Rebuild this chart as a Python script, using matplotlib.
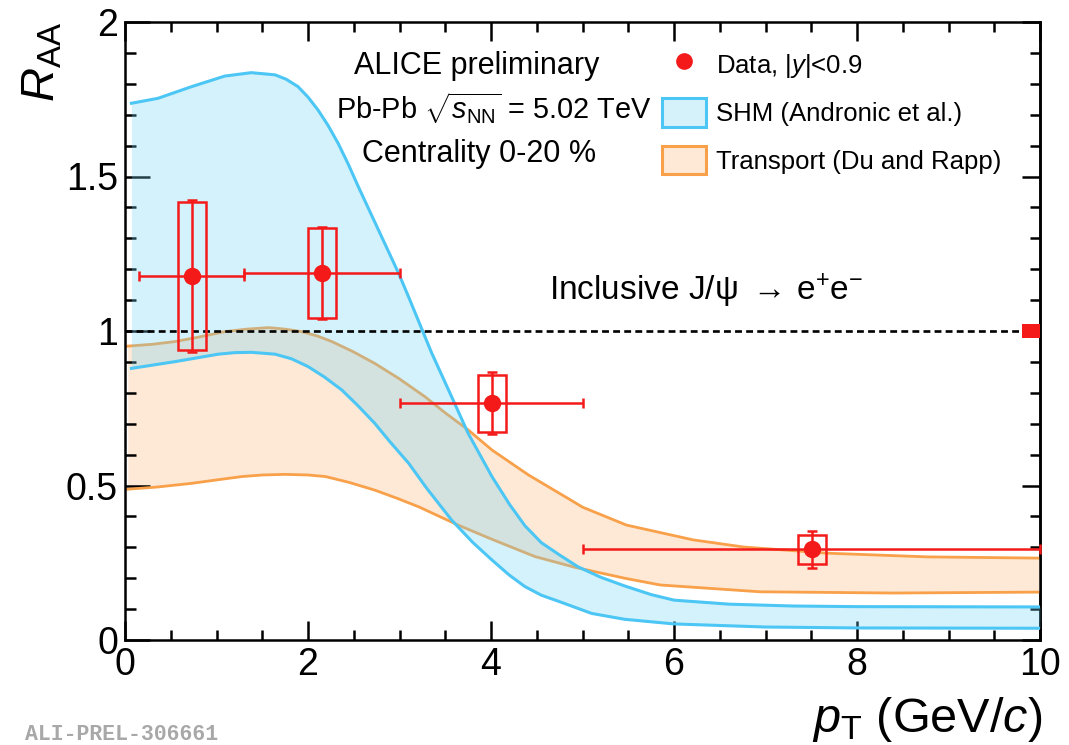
import matplotlib
matplotlib.use("Agg")
import matplotlib.pyplot as plt
from matplotlib.patches import Rectangle, Patch
from matplotlib.lines import Line2D
import numpy as np

plt.rcParams['font.family'] = ['Liberation Sans', 'DejaVu Sans']
plt.rcParams['mathtext.fontset'] = 'custom'
plt.rcParams['mathtext.rm'] = 'Liberation Sans'
plt.rcParams['mathtext.it'] = 'Liberation Sans:italic'
plt.rcParams['mathtext.bf'] = 'Liberation Sans:bold'

# ---------------- data ----------------
pt = [0.73, 2.155, 4.01, 7.51]
raa = [1.178, 1.187, 0.766, 0.293]
bin_lo = [0.15, 1.30, 3.0, 5.0]
bin_hi = [1.30, 3.0, 5.0, 10.0]
stat_err = [0.245, 0.149, 0.10, 0.060]
syst_err = [0.238, 0.146, 0.092, 0.046]
global_err = 0.023

shm_up_x = [0.07, 0.36, 0.73, 1.09, 1.38, 1.64, 1.76, 1.89, 2.0, 2.11, 2.22, 2.33, 2.44, 2.55, 2.77,
            2.99, 3.10, 3.35, 3.57, 3.75, 4.01, 4.2, 4.37, 4.55, 4.75, 4.95, 5.2, 5.46, 5.75,
            6.0, 6.6, 7.3, 8.0, 10.0]
shm_up_y = [1.737, 1.753, 1.791, 1.825, 1.836, 1.829, 1.815, 1.791, 1.757, 1.715, 1.665, 1.607, 1.54,
            1.467, 1.327, 1.187, 1.11, 0.93, 0.787, 0.669, 0.529, 0.44, 0.37, 0.315, 0.275, 0.237,
            0.203, 0.175, 0.147, 0.129, 0.116, 0.110, 0.108, 0.107]
shm_lo_x = [0.07, 0.55, 1.02, 1.2, 1.38, 1.64, 1.82, 2.0, 2.18, 2.37, 2.55, 2.73, 2.9, 3.10, 3.3,
            3.57, 3.8, 4.01, 4.2, 4.37, 4.55, 4.75, 5.10, 5.46, 6.0, 7.0, 8.0, 10.0]
shm_lo_y = [0.879, 0.901, 0.925, 0.930, 0.931, 0.925, 0.910, 0.885, 0.851, 0.809, 0.757, 0.701, 0.64,
            0.572, 0.49, 0.388, 0.316, 0.259, 0.21, 0.173, 0.145, 0.124, 0.086, 0.067, 0.052,
            0.042, 0.039, 0.038]

tr_up_x = [0.03, 0.3, 0.55, 0.8, 1.09, 1.33, 1.57, 1.75, 1.93, 2.1, 2.26, 2.5, 2.73, 3.0, 3.28,
           3.5, 3.75, 4.01, 4.41, 4.86, 5.0, 5.48, 6.21, 6.76, 7.67, 8.77, 10.0]
tr_up_y = [0.951, 0.957, 0.966, 0.980, 0.998, 1.006, 1.011, 1.006, 0.998, 0.984, 0.966, 0.932, 0.895,
           0.845, 0.787, 0.735, 0.680, 0.615, 0.534, 0.455, 0.43, 0.372, 0.324, 0.301, 0.281,
           0.269, 0.265]
tr_lo_x = [0.03, 0.35, 0.73, 1.0, 1.28, 1.5, 1.75, 2.0, 2.19, 2.45, 2.73, 2.97, 3.21, 3.64, 4.01,
           4.48, 4.92, 5.46, 5.85, 6.94, 8.4, 10.0]
tr_lo_y = [0.488, 0.495, 0.507, 0.518, 0.529, 0.534, 0.536, 0.534, 0.529, 0.510, 0.485, 0.459,
           0.431, 0.372, 0.326, 0.270, 0.235, 0.200, 0.178, 0.156, 0.152, 0.155]

x_ticks = [0, 2, 4, 6, 8, 10]
x_ticklabels = ['0', '2', '4', '6', '8', '10']
y_ticks = [0, 0.5, 1, 1.5, 2]
y_ticklabels = ['0', '0.5', '1', '1.5', '2']
legend_labels = ['Data, |$y$|<0.9', 'SHM (Andronic et al.)', 'Transport (Du and Rapp)']

# ---------------- style ----------------
RED = '#f41a1a'
BLUE_LINE = '#4cc6f4'
BLUE_FILL = '#73d4f2'
BLUE_FILL_EFF = '#d5f2fb'
OR_LINE = '#f8a04a'
OR_FILL = '#fde9d6'
BOX_HW = 0.155
GLOBAL_W = 0.2

fig = plt.figure(figsize=(10.69, 7.45), dpi=100)
W, H = 1069, 745
ax = fig.add_axes([125 / W, (H - 640) / H, 915 / W, 618 / H])

# transport band
tx = np.array(sorted(set(tr_up_x) | set(tr_lo_x)))
ax.fill_between(tx, np.interp(tx, tr_lo_x, tr_lo_y), np.interp(tx, tr_up_x, tr_up_y),
                color=OR_FILL, lw=0, zorder=1)
ax.plot(tr_up_x, tr_up_y, color=OR_LINE, lw=2.0, zorder=2, solid_joinstyle='round')
ax.plot(tr_lo_x, tr_lo_y, color=OR_LINE, lw=2.0, zorder=2, solid_joinstyle='round')

# SHM band (semi-transparent, drawn on top)
sx = np.array(sorted(set(shm_up_x) | set(shm_lo_x)))
ax.fill_between(sx, np.interp(sx, shm_lo_x, shm_lo_y), np.interp(sx, shm_up_x, shm_up_y),
                color=BLUE_FILL, alpha=0.3, lw=0, zorder=3)
ax.plot(shm_up_x, shm_up_y, color=BLUE_LINE, lw=2.2, zorder=4, solid_joinstyle='round')
ax.plot(shm_lo_x, shm_lo_y, color=BLUE_LINE, lw=2.2, zorder=4, solid_joinstyle='round')

# unity line
ln, = ax.plot([0, 10], [1, 1], color='black', lw=1.9, zorder=5)
ln.set_dashes((2.6, 1.6))

# data
pt_a = np.array(pt)
xerr = [pt_a - np.array(bin_lo), np.array(bin_hi) - pt_a]
ax.errorbar(pt, raa, xerr=xerr, yerr=stat_err, fmt='o', color=RED, ms=11.5,
            elinewidth=1.8, capsize=3.5, capthick=1.8, zorder=7, clip_on=False)
for xi, yi, si in zip(pt, raa, syst_err):
    ax.add_patch(Rectangle((xi - BOX_HW, yi - si), 2 * BOX_HW, 2 * si, fill=False,
                           ec=RED, lw=1.8, zorder=6))
ax.add_patch(Rectangle((10 - GLOBAL_W, 1 - global_err), GLOBAL_W, 2 * global_err,
                       fc=RED, ec='none', zorder=8))

# axes
ax.set_xlim(0, 10)
ax.set_ylim(0, 2)
ax.set_xticks(x_ticks)
ax.set_xticklabels(x_ticklabels)
ax.set_xticks(np.arange(0, 10.01, 0.5), minor=True)
ax.set_yticks(y_ticks)
ax.set_yticklabels(y_ticklabels)
ax.set_yticks(np.arange(0, 2.001, 0.1), minor=True)
for s in ax.spines.values():
    s.set_linewidth(1.8)
ax.tick_params(axis='both', which='both', direction='in', width=1.8, labelsize=27)
ax.tick_params(axis='x', which='major', length=14, pad=5, top=True)
ax.tick_params(axis='x', which='minor', length=7, top=True)
ax.tick_params(axis='y', which='major', length=18, pad=5)
ax.tick_params(axis='y', which='minor', length=8)
sec = ax.secondary_yaxis('right')
sec.set_yticks(y_ticks)
sec.set_yticks(np.arange(0, 2.001, 0.1), minor=True)
sec.tick_params(axis='y', which='both', direction='in', width=1.8, labelright=False)
sec.tick_params(axis='y', which='major', length=13)
sec.tick_params(axis='y', which='minor', length=7)
sec.spines['right'].set_linewidth(1.8)

# labels
fig.text(55 / W, (H - 22) / H, r'$R_{\rm AA}$', fontsize=34, rotation=90,
         rotation_mode='anchor', ha='right', va='baseline')
fig.text(1042 / W, (H - 732) / H, r'$p_{\rm T}$ (GeV/$c$)', fontsize=35,
         ha='right', va='baseline')

# annotations
def px(xp, yp):
    return (xp / W, (H - yp) / H)

fig.text(*px(354, 74), 'ALICE preliminary', fontsize=22, ha='left', va='baseline')
fig.text(*px(336, 119), r'Pb-Pb $\sqrt{s_{\rm NN}}$ = 5.02 TeV', fontsize=20.8, ha='left', va='baseline')
fig.text(*px(362, 162), 'Centrality 0-20 %', fontsize=22, ha='left', va='baseline')
fig.text(*px(549, 300), r'Inclusive J/ψ $\rightarrow\!$ e$^{+}$e$^{-}$', fontsize=24,
         ha='left', va='baseline')
fig.text(*px(25, 740), 'ALI-PREL-306661', fontsize=15.5, family='Liberation Mono',
         weight='bold', color='#a8a8a8', ha='left', va='baseline')

# legend
handles = [Line2D([], [], marker='o', color=RED, ls='none', ms=11),
           Patch(facecolor=BLUE_FILL_EFF, edgecolor=BLUE_LINE, lw=2.2),
           Patch(facecolor=OR_FILL, edgecolor=OR_LINE, lw=2.2)]
ax.legend(handles, legend_labels, loc='upper left', bbox_to_anchor=(0.587, 0.955),
          frameon=False, fontsize=18.5, borderpad=0, borderaxespad=0,
          handlelength=1.7, handleheight=1.35, handletextpad=0.4, labelspacing=0.72)

fig.savefig('out.png', dpi=100, facecolor='white')
